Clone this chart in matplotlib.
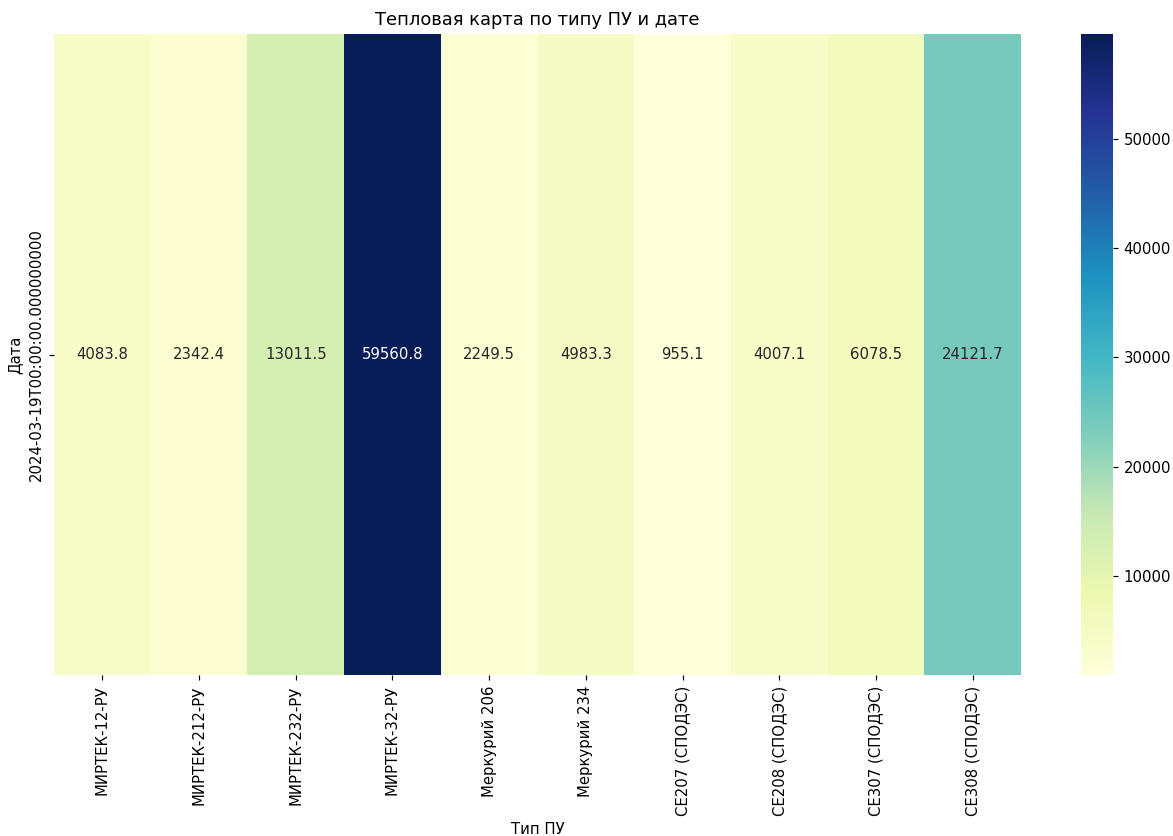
import pandas as pd
import matplotlib
matplotlib.use("Agg")
import matplotlib.pyplot as plt
import seaborn as sns

# meter types and summed values for the single date
meter_types = ["МИРТЕК-12-РУ", "МИРТЕК-212-РУ", "МИРТЕК-232-РУ", "МИРТЕК-32-РУ",
               "Меркурий 206", "Меркурий 234", "CE207 (СПОДЭС)", "CE208 (СПОДЭС)",
               "CE307 (СПОДЭС)", "CE308 (СПОДЭС)"]
values = [4083.8, 2342.4, 13011.5, 59560.8, 2249.5, 4983.3, 955.1, 4007.1, 6078.5, 24121.7]
dates = ["2024-03-19T00:00:00.000000000"]


def main():
    pivot = pd.DataFrame([values], index=dates, columns=meter_types)
    pivot.index.name = "Дата"
    pivot.columns.name = "Тип ПУ"

    W, H = 1173, 836
    dpi = 107
    fig = plt.figure(figsize=(W / dpi, H / dpi), dpi=dpi)
    ax = fig.add_axes([54 / W, (H - 675) / H, (1021 - 54) / W, (675 - 34) / H])
    cax = fig.add_axes([1081 / W, (H - 675) / H, 32 / W, (675 - 34) / H])

    sns.heatmap(pivot, annot=True, fmt=".1f", cmap="YlGnBu", ax=ax, cbar_ax=cax)
    ax.set_title("Тепловая карта по типу ПУ и дате")
    ax.set_xlabel("Тип ПУ")
    ax.set_ylabel("Дата")

    fig.savefig("out.png", dpi=dpi)


if __name__ == "__main__":
    main()
